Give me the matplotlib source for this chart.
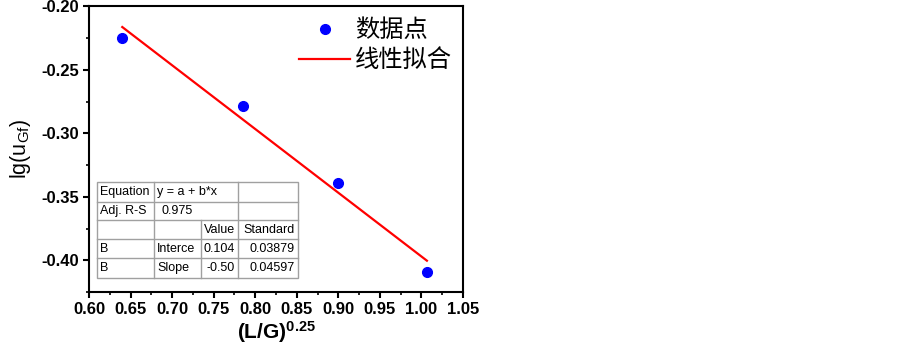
import numpy as np
import matplotlib
matplotlib.use('Agg')
import matplotlib.pyplot as plt
from matplotlib.ticker import MultipleLocator

plt.rcParams['font.family'] = ['Liberation Sans', 'DejaVu Sans']
plt.rcParams['mathtext.fontset'] = 'custom'
plt.rcParams['mathtext.rm'] = 'Liberation Sans'
plt.rcParams['mathtext.it'] = 'Liberation Sans:italic'
plt.rcParams['mathtext.bf'] = 'Liberation Sans:bold'

# data
x_vals = [0.640, 0.785, 0.8995, 1.0066]
y_vals = [-0.2247, -0.2784, -0.3393, -0.4096]

legend_labels = ['数据点', '线性拟合']

# fit summary table (as printed in the reference)
table_rows = [
    ['Equation', 'y = a + b*x', '', ''],
    ['Adj. R-S', '0.975', '', ''],
    ['', '', 'Value', 'Standard'],
    ['B', 'Interce', '0.104', '0.03879'],
    ['B', 'Slope', '-0.50', '0.04597'],
]

x_ticks = np.arange(0.60, 1.051, 0.05)
y_ticks = np.arange(-0.40, -0.199, 0.05)

fig = plt.figure(figsize=(9.03, 3.51), dpi=100)
ax = fig.add_axes([0.0986, 0.168, 0.4141, 0.8135])

# linear fit
b, a = np.polyfit(x_vals, y_vals, 1)
xf = np.array([min(x_vals), max(x_vals)])

ax.plot(x_vals, y_vals, 'o', color='#0000ff', markersize=7, linestyle='none', label=legend_labels[0])
ax.plot(xf, a + b * xf, color='#ff0000', linewidth=1.6, label=legend_labels[1])

ax.set_xlim(0.60, 1.05)
ax.set_ylim(-0.425, -0.20)
ax.set_xticks(x_ticks)
ax.set_yticks(y_ticks)
ax.set_xticklabels([f'{t:.2f}' for t in x_ticks])
ax.set_yticklabels([f'{t:.2f}' for t in y_ticks])
ax.xaxis.set_minor_locator(MultipleLocator(0.025))
ax.yaxis.set_minor_locator(MultipleLocator(0.025))

for lab in ax.get_xticklabels() + ax.get_yticklabels():
    lab.set_fontweight('bold')
    lab.set_fontsize(12)

ax.tick_params(which='major', direction='out', length=4, width=1.5, top=False, right=False, pad=3)
ax.tick_params(which='minor', direction='out', length=2.5, width=1.2, top=False, right=False)
for s in ax.spines.values():
    s.set_linewidth(1.5)

ax.set_xlabel(r'(L/G)$^{\mathbf{0.25}}$', fontsize=15, fontweight='bold', labelpad=2)
ax.set_ylabel(r'lg(u$_{\mathrm{Gf}}$)', fontsize=15.5, labelpad=6)

leg = ax.legend(loc='upper right', frameon=False, handlelength=2.1, handletextpad=0.2,
                labelspacing=0.15, borderaxespad=0.25, borderpad=0.2,
                prop={'family': ['Noto Sans CJK SC', 'DejaVu Sans'], 'size': 17.5})

# table drawn by hand in axes fraction
col_edges = [0.020, 0.1738, 0.2995, 0.3984, 0.5588]
row_edges = [0.3853, 0.3170, 0.2522, 0.1856, 0.1191, 0.0490]
grid_c = '#a0a0a0'
ax.add_patch(plt.Rectangle((col_edges[0], row_edges[-1]), col_edges[-1] - col_edges[0],
                           row_edges[0] - row_edges[-1], transform=ax.transAxes,
                           facecolor='white', edgecolor=grid_c, linewidth=1.0, zorder=5))
for y in row_edges[1:-1]:
    ax.plot([col_edges[0], col_edges[-1]], [y, y], transform=ax.transAxes, color=grid_c, lw=1.0, zorder=6)
for i, xc in enumerate(col_edges[1:-1], start=1):
    y_top = row_edges[0] if i != 2 else row_edges[2]
    ax.plot([xc, xc], [y_top, row_edges[-1]], transform=ax.transAxes, color=grid_c, lw=1.0, zorder=6)

pad = 0.008
for r, row in enumerate(table_rows):
    yc = (row_edges[r] + row_edges[r + 1]) / 2
    for c, txt in enumerate(row):
        if not txt:
            continue
        if c <= 1 and not (r == 1 and c == 1):
            xt, ha = col_edges[c] + pad, 'left'
        elif r == 1 and c == 1:
            xt, ha = (col_edges[1] + col_edges[2]) / 2, 'center'
        else:
            xt, ha = col_edges[c + 1] - pad, 'right'
        ax.text(xt, yc, txt, transform=ax.transAxes, ha=ha, va='center',
                fontsize=9, zorder=7)

fig.savefig('out.png', dpi=100)
